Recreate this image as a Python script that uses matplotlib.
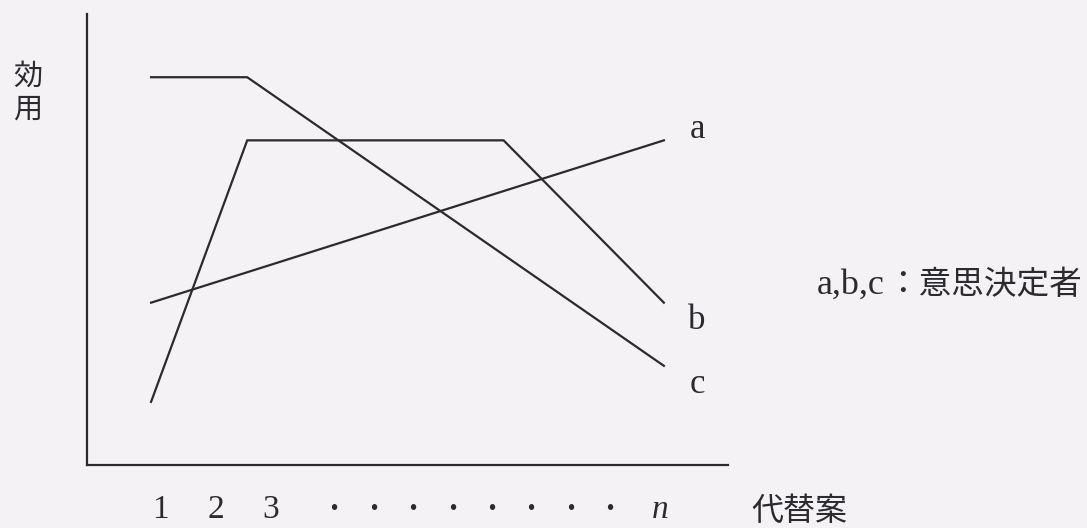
import matplotlib
matplotlib.use("Agg")
import matplotlib.pyplot as plt

# utility curves of the three decision makers (x: alternatives, y: utility, 0-100 scale)
a_x = [10, 90]
a_y = [36, 72]
b_x = [10, 25, 65, 90]
b_y = [14, 72, 72, 36]
c_x = [10, 25, 90]
c_y = [86, 86, 22]

tick_pos = [11.4, 20.1, 28.7, 38.5, 44.7, 50.8, 57.0, 63.1, 69.3, 75.4, 81.6, 89.4]
tick_labels = ["1", "2", "3"] + ["·"] * 8 + ["n"]

line_names = ["a", "b", "c"]
line_ends = [74.3, 32.0, 17.8]

bg = "#f4f2f5"
ink = "#2b2a2e"
serif = ["Liberation Serif", "Noto Sans CJK JP"]
cjk = ["Noto Sans CJK JP", "DejaVu Sans"]

fig = plt.figure(figsize=(10.87, 5.28), dpi=100, facecolor=bg)
ax = fig.add_axes([0.080, 0.1193, 0.5897, 0.854])
ax.set_facecolor(bg)

for xs, ys in [(a_x, a_y), (b_x, b_y), (c_x, c_y)]:
    ax.plot(xs, ys, color=ink, lw=1.6, solid_joinstyle="miter")

ax.set_xlim(0, 100)
ax.set_ylim(0, 100)
for side in ["top", "right"]:
    ax.spines[side].set_visible(False)
for side in ["left", "bottom"]:
    ax.spines[side].set_color(ink)
    ax.spines[side].set_linewidth(1.6)

ax.set_yticks([])
ax.set_xticks(tick_pos)
ax.set_xticklabels(tick_labels, family=serif, fontsize=24, color=ink)
ax.tick_params(axis="x", length=0, pad=21)
lbls = ax.get_xticklabels()
lbls[-1].set_style("italic")
for t in lbls[3:-1]:
    t.set_fontweight("bold")

# curve labels
for name, yv in zip(line_names, line_ends):
    ax.text(95.2, yv, name, family=serif, fontsize=25, color=ink,
            ha="center", va="center", clip_on=False)

ax.text(113.9, 39.9, "a,b,c", family=serif, fontsize=26, color=ink,
        ha="left", va="center", clip_on=False)
ax.text(124.7, 39.9, "：意思決定者", family=cjk, fontsize=23.5, color=ink,
        ha="left", va="center", clip_on=False)
ax.text(111.2, -10.3, "代替案", family=cjk, fontsize=23, color=ink,
        ha="center", va="center", clip_on=False)
ax.text(-9.2, 82.5, "効\n用", family=cjk, fontsize=21, color=ink,
        ha="center", va="center", linespacing=1.1, clip_on=False)

fig.savefig("out.png", dpi=100, facecolor=bg)
